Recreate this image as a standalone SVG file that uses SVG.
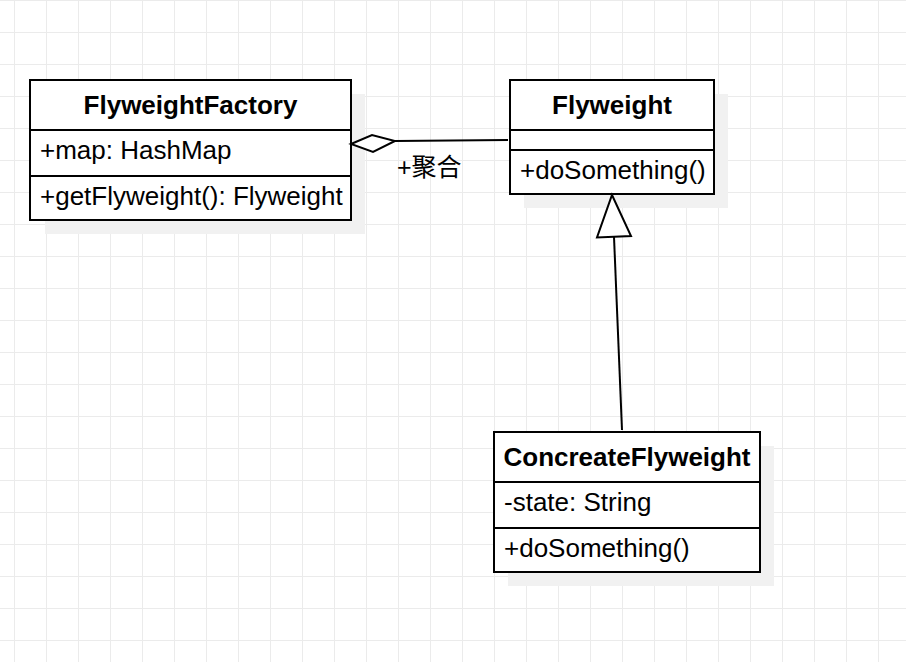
<svg xmlns="http://www.w3.org/2000/svg" width="906" height="662" viewBox="0 0 906 662">
<defs>
<pattern id="grid" x="14" y="0" width="32" height="32" patternUnits="userSpaceOnUse">
<path d="M0.5 0V32M0 0.5H32" fill="none" stroke="#ebebeb" stroke-width="1"/>
</pattern>
</defs>
<style>
.shadow{fill:#f1f1f1;stroke:none}
.box{fill:#ffffff;stroke:#000;stroke-width:2}
.div{stroke:#000;stroke-width:2}
.t{font-family:"Liberation Sans",Arial,"Noto Sans CJK SC",sans-serif;font-size:26px;fill:#000}
.b{font-weight:bold;text-anchor:middle}
.edge{fill:none;stroke:#000;stroke-width:2}
.head{fill:#fff;stroke:#000;stroke-width:2;stroke-linejoin:miter}
.lbl{font-family:"Liberation Sans",Arial,"Noto Sans CJK SC",sans-serif;font-size:25px;fill:#000}
</style>
<rect width="906" height="662" fill="#ffffff"/>
<rect width="906" height="662" fill="url(#grid)"/>

<g id="FlyweightFactory">
<rect class="shadow" x="45" y="94" width="320" height="140"/>
<rect class="box" x="30" y="80" width="321" height="140"/>
<line class="div" x1="30" y1="130" x2="351" y2="130"/>
<line class="div" x1="30" y1="176" x2="351" y2="176"/>
<text class="t b" x="190.5" y="114">FlyweightFactory</text>
<text class="t" x="40" y="159">+map: HashMap</text>
<text class="t" x="40" y="205">+getFlyweight(): Flyweight</text>
</g>

<g id="Flyweight">
<rect class="shadow" x="524" y="94" width="204" height="114"/>
<rect class="box" x="510" y="80" width="204" height="114"/>
<line class="div" x1="510" y1="130" x2="714" y2="130"/>
<line class="div" x1="510" y1="150" x2="714" y2="150"/>
<text class="t b" x="612" y="114">Flyweight</text>
<text class="t" x="520" y="179">+doSomething()</text>
</g>

<g id="ConcreateFlyweight">
<rect class="shadow" x="508" y="446" width="266" height="140"/>
<rect class="box" x="494" y="432" width="266" height="140"/>
<line class="div" x1="494" y1="482" x2="760" y2="482"/>
<line class="div" x1="494" y1="528" x2="760" y2="528"/>
<text class="t b" x="627" y="466">ConcreateFlyweight</text>
<text class="t" x="504" y="511">-state: String</text>
<text class="t" x="504" y="557">+doSomething()</text>
</g>

<g id="connectors">
<line class="edge" x1="395" y1="141" x2="508" y2="140"/>
<polygon class="head" points="351,144 372,135 395,141 373,152"/>
<text class="lbl" x="397" y="176">+聚合</text>
<line class="edge" x1="614" y1="237" x2="622" y2="430"/>
<polygon class="head" points="612,195 631,236 597,237.5"/>
</g>
</svg>
